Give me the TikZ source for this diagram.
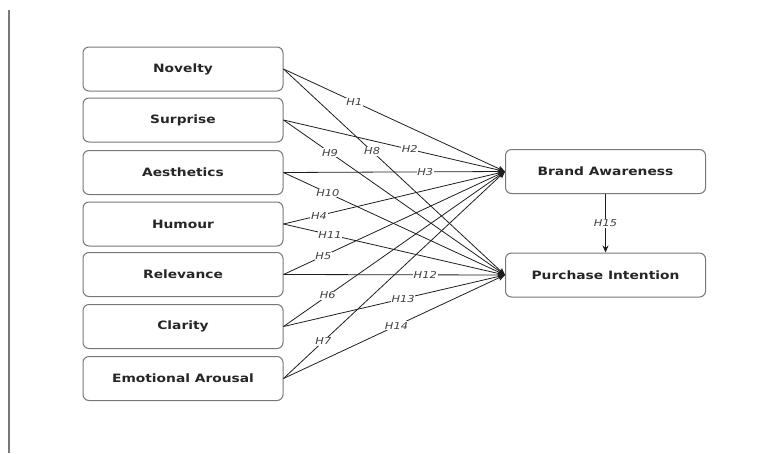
\documentclass[tikz,border=0pt]{standalone}
\usepackage{fontspec}
\newfontfamily\boxfont[FakeStretch=1.2]{DejaVu Sans}
\usetikzlibrary{arrows.meta}
\definecolor{boxgray}{RGB}{120,120,120}
\definecolor{linegray}{RGB}{30,30,30}
\tikzset{
  construct/.style={draw=boxgray, line width=1pt, rounded corners=6pt, fill=white,
    minimum width=200pt, minimum height=44pt, inner sep=0pt,
    font=\boxfont\bfseries\fontsize{11.5}{13}\selectfont, text=black!85},
  path/.style={draw=linegray, line width=0.8pt, -{Stealth[length=7pt,width=6pt]}},
  hyp/.style={fill=white, inner sep=0.8pt, font=\boxfont\itshape\fontsize{9.5}{11}\selectfont, text=black!75}
}
\begin{document}
\begin{tikzpicture}[x=1pt,y=-1pt]
\useasboundingbox (0,0) rectangle (774,453);
\coordinate (vtop) at (9,10);
\coordinate (vbot) at (9,453);
\draw[boxgray, line width=1.3pt] (vtop) -- (vbot);

\node[construct] (nov) at (183,69) {Novelty};
\node[construct] (sur) at (183,120) {Surprise};
\node[construct] (aes) at (183,172.5) {Aesthetics};
\node[construct] (hum) at (183,224) {Humour};
\node[construct] (rel) at (183,274.5) {Relevance};
\node[construct] (cla) at (183,326.5) {Clarity};
\node[construct] (emo) at (183,378.5) {Emotional Arousal};

\node[construct] (ba) at (605.5,171.5) {Brand Awareness};
\node[construct] (pi) at (605.5,275) {Purchase Intention};

% paths to Brand Awareness
\draw[path] (nov.east) -- node[hyp, pos=0.32] {H1} (ba.west);
\draw[path] (sur.east) -- node[hyp, pos=0.57] {H2} (ba.west);
\draw[path] (aes.east) -- node[hyp, pos=0.64] {H3} (ba.west);
\draw[path] (hum.east) -- node[hyp, pos=0.16] {H4} (ba.west);
\draw[path] (rel.east) -- node[hyp, pos=0.18] {H5} (ba.west);
\draw[path] (cla.east) -- node[hyp, pos=0.20] {H6} (ba.west);
\draw[path] (emo.east) -- node[hyp, pos=0.18] {H7} (ba.west);

% paths to Purchase Intention
\draw[path] (nov.east) -- node[hyp, pos=0.40] {H8} (pi.west);
\draw[path] (sur.east) -- node[hyp, pos=0.21] {H9} (pi.west);
\draw[path] (aes.east) -- node[hyp, pos=0.20] {H10} (pi.west);
\draw[path] (hum.east) -- node[hyp, pos=0.21] {H11} (pi.west);
\draw[path] (rel.east) -- node[hyp, pos=0.64] {H12} (pi.west);
\draw[path] (cla.east) -- node[hyp, pos=0.54] {H13} (pi.west);
\draw[path] (emo.east) -- node[hyp, pos=0.51] {H14} (pi.west);

\draw[path] (ba.south) -- node[hyp, pos=0.5] {H15} (pi.north);
\end{tikzpicture}
\end{document}
